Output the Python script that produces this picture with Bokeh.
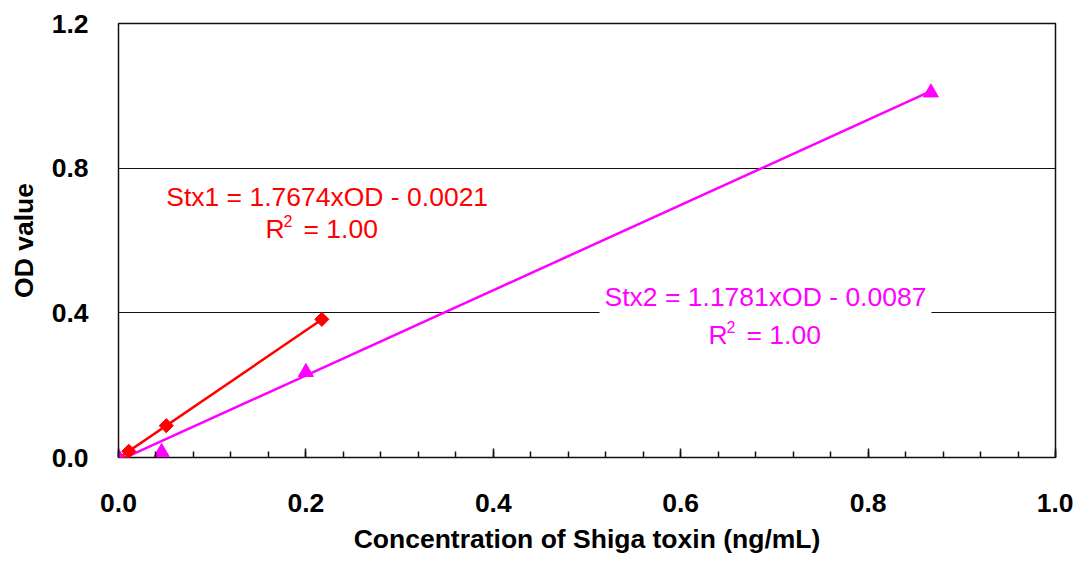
import numpy as np
from bokeh.plotting import figure
from bokeh.models import FixedTicker, PrintfTickFormatter, Label, Range1d, Title
from bokeh.embed import file_html
from bokeh.resources import INLINE

# Standard-curve data: toxin concentration (ng/mL) vs OD reading
stx1_conc = [0.0, 0.011, 0.051, 0.217]
stx1_od = [0.0, 0.017, 0.088, 0.382]
stx2_conc = [0.0, 0.046, 0.200, 0.867]
stx2_od = [0.0, 0.015, 0.236, 1.009]

# Linear fit coefficients shown in the equations
stx1_fit = (1.7674, -0.0021)
stx2_fit = (1.1781, -0.0087)

x_ticks = [0.0, 0.2, 0.4, 0.6, 0.8, 1.0]
x_minor = [round(0.04 * i, 2) for i in range(26)]
y_ticks = [0.0, 0.4, 0.8, 1.2]
grid_lines = [0.4, 0.8]

x_title = "Concentration of Shiga toxin (ng/mL)"
y_title = "OD value"

RED = "#FF0000"
MAGENTA = "#FF00FF"
FONT = "Liberation Sans"
TICK_SIZE = "26.5px"
TITLE_SIZE = "26.5px"
NOTE_SIZE = "26.5px"

p = figure(width=1073, height=561, output_backend="svg", toolbar_location=None,
           x_range=Range1d(0, 1.0), y_range=Range1d(0, 1.2),
           min_border_left=118, min_border_right=18,
           min_border_top=23, min_border_bottom=104)

p.background_fill_color = "white"
p.border_fill_color = "white"
p.outline_line_color = "#111111"
p.outline_line_width = 1.5

# x axis: ticks point into the frame
xa = p.xaxis[0]
xa.ticker = FixedTicker(ticks=x_ticks, minor_ticks=x_minor)
xa.formatter = PrintfTickFormatter(format="%.1f")
xa.axis_line_color = None
xa.major_tick_in = 9
xa.major_tick_out = 0
xa.minor_tick_in = 6
xa.minor_tick_out = 0
xa.major_tick_line_color = "#111111"
xa.minor_tick_line_color = "#111111"
xa.major_tick_line_width = 1.5
xa.minor_tick_line_width = 1.5
xa.major_label_standoff = 36
xa.major_label_text_font = FONT
xa.major_label_text_font_style = "bold"
xa.major_label_text_font_size = TICK_SIZE
xa.major_label_text_color = "black"

ya = p.yaxis[0]
ya.ticker = FixedTicker(ticks=y_ticks)
ya.formatter = PrintfTickFormatter(format="%.1f")
ya.axis_line_color = None
ya.major_tick_in = 0
ya.major_tick_out = 0
ya.minor_tick_line_color = None
ya.major_label_standoff = 30
ya.major_label_text_font = FONT
ya.major_label_text_font_style = "bold"
ya.major_label_text_font_size = TICK_SIZE
ya.major_label_text_color = "black"
ya.axis_label = y_title
ya.axis_label_text_font = FONT
ya.axis_label_text_font_style = "bold"
ya.axis_label_text_font_size = TITLE_SIZE
ya.axis_label_text_color = "black"
ya.axis_label_standoff = 10

# x-axis title as a centred title panel under the axis
p.add_layout(Title(text=x_title, align="center", vertical_align="bottom",
                   standoff=15, text_font=FONT, text_font_style="bold",
                   text_font_size=TITLE_SIZE, text_color="black"), "below")

p.xgrid.grid_line_color = None
p.ygrid.ticker = FixedTicker(ticks=grid_lines)
p.ygrid.grid_line_color = "#111111"
p.ygrid.grid_line_width = 1


def fit_line(xs, coef):
    x0, x1 = min(xs), max(xs)
    return [x0, x1], [coef[0] * x0 + coef[1], coef[0] * x1 + coef[1]]


# trend lines
lx, ly = fit_line(stx1_conc, stx1_fit)
p.line(lx, ly, line_color=RED, line_width=2.5)
lx, ly = fit_line(stx2_conc, stx2_fit)
p.line(lx, ly, line_color=MAGENTA, line_width=2.5)

# data points
p.scatter(stx1_conc, stx1_od, marker="square", angle=np.pi / 4, size=10,
          fill_color=RED, line_color=RED)
p.scatter(stx2_conc, stx2_od, marker="triangle", size=15,
          fill_color=MAGENTA, line_color=MAGENTA)


def eq_text(name, coef):
    return f"{name} = {coef[0]:.4f}xOD - {abs(coef[1]):.4f}"


def add_r2(x, y, color):
    kw = dict(text_font=FONT, text_color=color, text_baseline="alphabetic",
              text_align="left")
    p.add_layout(Label(x=x, y=y, text="R", text_font_size=NOTE_SIZE, **kw))
    p.add_layout(Label(x=x, y=y, x_offset=18, y_offset=8, text="2",
                       text_font_size="16px", **kw))
    p.add_layout(Label(x=x, y=y, x_offset=38, text="= 1.00",
                       text_font_size=NOTE_SIZE, **kw))


p.add_layout(Label(x=0.2227, y=0.720, text=eq_text("Stx1", stx1_fit),
                   text_font=FONT, text_font_size=NOTE_SIZE, text_color=RED,
                   text_align="center", text_baseline="alphabetic"))
add_r2(0.1569, 0.632, RED)

p.add_layout(Label(x=0.6905, y=0.443, text=eq_text("Stx2", stx2_fit),
                   text_font=FONT, text_font_size=NOTE_SIZE, text_color=MAGENTA,
                   text_align="center", text_baseline="alphabetic",
                   background_fill_color="white", padding=5))
add_r2(0.6297, 0.338, MAGENTA)

open("out.html", "w").write(file_html(p, INLINE))
